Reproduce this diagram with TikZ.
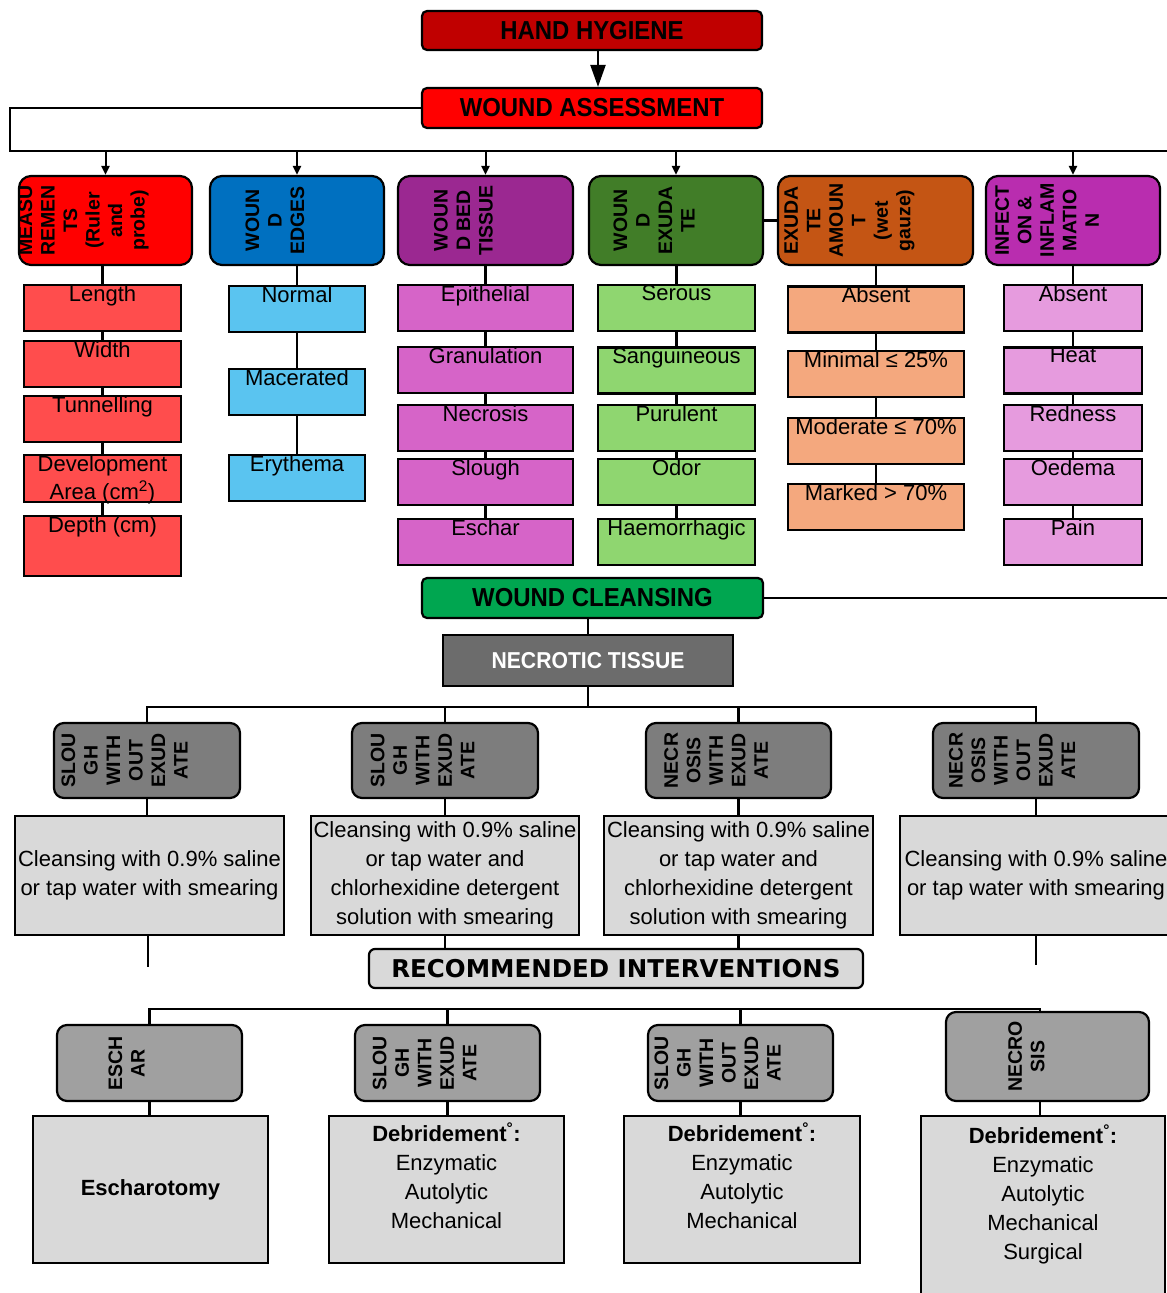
\documentclass[tikz,border=0pt]{standalone}
\usepackage{fontspec}
\setmainfont{Liberation Sans}
\newfontfamily\narrowsf[FakeStretch=0.92]{Liberation Sans}
\newfontfamily\widesf{DejaVu Sans}
\usetikzlibrary{arrows.meta,backgrounds}

\definecolor{hhred}{RGB}{192,0,0}
\definecolor{wared}{RGB}{255,0,0}
\definecolor{catred}{RGB}{255,0,0}
\definecolor{catblue}{RGB}{0,112,192}
\definecolor{catpurple}{RGB}{155,40,145}
\definecolor{catgreen}{RGB}{65,125,40}
\definecolor{catorange}{RGB}{196,85,20}
\definecolor{catmagenta}{RGB}{185,45,175}
\definecolor{itred}{RGB}{255,77,77}
\definecolor{itblue}{RGB}{90,196,240}
\definecolor{itorchid}{RGB}{214,100,200}
\definecolor{itgreen}{RGB}{143,214,112}
\definecolor{itpeach}{RGB}{244,168,126}
\definecolor{itpink}{RGB}{230,155,222}
\definecolor{wcgreen}{RGB}{0,166,80}
\definecolor{ntgray}{RGB}{108,108,108}
\definecolor{grpgray}{RGB}{125,125,125}
\definecolor{grplite}{RGB}{160,160,160}
\definecolor{notegray}{RGB}{217,217,217}

\tikzset{
  conn/.style={line width=2.4pt},
  hdr/.style={draw, line width=2.2pt, rounded corners=5pt, inner sep=0pt,
    font=\narrowsf\bfseries\fontsize{26}{30}\selectfont},
  cat/.style={draw, line width=2.2pt, rounded corners=12pt, minimum height=89pt},
  vtxt/.style={rotate=90, align=center, inner sep=0pt,
    font=\bfseries\fontsize{19.5}{22.5}\selectfont},
  item/.style={draw, line width=2.2pt, inner sep=0pt, minimum height=46pt,
    label={[itemtxt]north:#1}},
  itemtxt/.style={anchor=north, align=center, inner sep=1pt,
    font=\fontsize{22}{28}\selectfont},
  grp/.style={draw, line width=2.2pt, rounded corners=10pt, fill=grpgray,
    minimum height=75pt},
  note/.style={draw, line width=2.2pt, fill=notegray, inner sep=0pt, align=center,
    font=\fontsize{22}{29}\selectfont},
  dtxt/.style={anchor=north, align=center, inner sep=1pt,
    font=\fontsize{22}{29}\selectfont},
}

\begin{document}
\begin{tikzpicture}[x=1pt, y=-1pt]
   \useasboundingbox (0,0) rectangle (1167,1293);

   % assessment
   \node[hdr, fill=hhred, minimum width=340pt, minimum height=39pt] (hh) at (592,30.5) {HAND HYGIENE};
   \node[hdr, fill=wared, minimum width=340pt, minimum height=40pt] (wa) at (592,108) {WOUND ASSESSMENT};
   \draw[line width=2.2pt, -{Triangle[length=22pt,width=15pt]}] ([xshift=6pt]hh.south) -- ([xshift=6pt]wa.north);

   \node[cat, fill=catred, minimum width=173pt] (meas) at (105.5,220.5) {};
   \node[vtxt] (meas-t) at ([xshift=-22pt]meas.center) {MEASU\\REMEN\\TS\\(Ruler\\and\\probe)};
   \node[cat, fill=catblue, minimum width=174pt] (edges) at (297,220.5) {};
   \node[vtxt] (edges-t) at ([xshift=-22pt]edges.center) {WOUN\\D\\EDGES};
   \node[cat, fill=catpurple, minimum width=175pt] (bed) at (485.5,220.5) {};
   \node[vtxt] (bed-t) at ([xshift=-22pt]bed.center) {WOUN\\D BED\\TISSUE};
   \node[cat, fill=catgreen, minimum width=174pt] (exud) at (676,220.5) {};
   \node[vtxt] (exud-t) at ([xshift=-22pt]exud.center) {WOUN\\D\\EXUDA\\TE};
   \node[cat, fill=catorange, minimum width=195pt] (amount) at (875.5,220.5) {};
   \node[vtxt] (amount-t) at ([xshift=-26pt]amount.center) {EXUDA\\TE\\AMOUN\\T\\(wet\\gauze)};
   \node[cat, fill=catmagenta, minimum width=174pt] (infect) at (1073,220.5) {};
   \node[vtxt] (infect-t) at ([xshift=-26pt]infect.center) {INFECT\\ON \&\\INFLAM\\MATIO\\N};

   \coordinate (bl) at (10,151);
   \coordinate (br) at (1170,151);

   % items
   \node[item=Length, fill=itred, minimum width=157pt] (len) at (102.5,308) {};
   \node[item=Width, fill=itred, minimum width=157pt] (wid) at (102.5,364) {};
   \node[item=Tunnelling, fill=itred, minimum width=157pt] (tun) at (102.5,419) {};
   \node[item={Development\\Area (cm\textsuperscript{2})}, fill=itred, minimum width=157pt, minimum height=47pt] (dev) at (102.5,478.5) {};
   \node[item={Depth (cm)}, fill=itred, minimum width=157pt, minimum height=60pt] (dep) at (102.5,546) {};

   \node[item=Normal, fill=itblue, minimum width=136pt] (nor) at (297,309) {};
   \node[item=Macerated, fill=itblue, minimum width=136pt] (mac) at (297,392) {};
   \node[item=Erythema, fill=itblue, minimum width=136pt] (ery) at (297,478) {};

   \node[item=Epithelial, fill=itorchid, minimum width=175pt] (epi) at (485.5,308) {};
   \node[item=Granulation, fill=itorchid, minimum width=175pt] (gra) at (485.5,370) {};
   \node[item=Necrosis, fill=itorchid, minimum width=175pt] (nec) at (485.5,428) {};
   \node[item=Slough, fill=itorchid, minimum width=175pt] (slo) at (485.5,482) {};
   \node[item=Eschar, fill=itorchid, minimum width=175pt] (esc) at (485.5,542) {};

   \node[item=Serous, fill=itgreen, minimum width=157pt] (ser) at (676.5,308) {};
   \node[item=Sanguineous, fill=itgreen, minimum width=157pt] (san) at (676.5,370.5) {};
   \node[item=Purulent, fill=itgreen, minimum width=157pt] (pur) at (676.5,428) {};
   \node[item=Odor, fill=itgreen, minimum width=157pt] (odo) at (676.5,482) {};
   \node[item=Haemorrhagic, fill=itgreen, minimum width=157pt] (hae) at (676.5,542) {};

   \node[item=Absent, fill=itpeach, minimum width=176pt] (abs) at (876,309.5) {};
   \node[item={Minimal ≤ 25\%}, fill=itpeach, minimum width=176pt] (min) at (876,374) {};
   \node[item={Moderate ≤ 70\%}, fill=itpeach, minimum width=176pt] (mod) at (876,441) {};
   \node[item={Marked > 70\%}, fill=itpeach, minimum width=176pt] (mar) at (876,507) {};

   \node[item=Absent, fill=itpink, minimum width=138pt] (iabs) at (1073,308) {};
   \node[item=Heat, fill=itpink, minimum width=138pt] (hea) at (1073,370.5) {};
   \node[item=Redness, fill=itpink, minimum width=138pt] (rdn) at (1073,428) {};
   \node[item=Oedema, fill=itpink, minimum width=138pt] (oed) at (1073,482) {};
   \node[item=Pain, fill=itpink, minimum width=138pt] (pai) at (1073,542) {};

   % cleansing
   \node[hdr, fill=wcgreen, minimum width=341pt, minimum height=40pt] (wc) at (592.5,598) {WOUND CLEANSING};
   \node[draw, line width=2.2pt, fill=ntgray, text=white, minimum width=290pt, minimum height=51pt,
     font=\narrowsf\bfseries\fontsize{23}{27}\selectfont] (nt) at (588,660.5) {NECROTIC TISSUE};
   \coordinate (nbar) at (588,707);

   \node[grp, minimum width=186pt] (g1) at (147,760.5) {};
   \node[vtxt] (g1-t) at ([xshift=-22.5pt]g1.center) {SLOU\\GH\\WITH\\OUT\\EXUD\\ATE};
   \node[grp, minimum width=186pt] (g2) at (445,760.5) {};
   \node[vtxt] (g2-t) at ([xshift=-22.5pt]g2.center) {SLOU\\GH\\WITH\\EXUD\\ATE};
   \node[grp, minimum width=185pt] (g3) at (738.5,760.5) {};
   \node[vtxt] (g3-t) at ([xshift=-22.5pt]g3.center) {NECR\\OSIS\\WITH\\EXUD\\ATE};
   \node[grp, minimum width=206pt] (g4) at (1036,760.5) {};
   \node[vtxt] (g4-t) at ([xshift=-24pt]g4.center) {NECR\\OSIS\\WITH\\OUT\\EXUD\\ATE};

   \node[note, minimum width=269pt, minimum height=119pt] (c1) at (149.5,875.5) {Cleansing with 0.9\% saline\\or tap water with smearing};
   \node[note, minimum width=268pt, minimum height=119pt] (c2) at (445,875.5) {Cleansing with 0.9\% saline\\or tap water and\\chlorhexidine detergent\\solution with smearing};
   \node[note, minimum width=269pt, minimum height=119pt] (c3) at (738.5,875.5) {Cleansing with 0.9\% saline\\or tap water and\\chlorhexidine detergent\\solution with smearing};
   \node[note, minimum width=272pt, minimum height=119pt] (c4) at (1036,875.5) {Cleansing with 0.9\% saline\\or tap water with smearing};
   \coordinate (c1-end) at (148,967);
   \coordinate (c4-end) at (1036,965);

   \node[draw, line width=2.2pt, rounded corners=6pt, fill=notegray, minimum width=494pt, minimum height=39pt,
     font=\widesf\bfseries\fontsize{24.5}{28}\selectfont] (ri) at (616,968.5) {RECOMMENDED INTERVENTIONS};

   % interventions
   \coordinate (bbar) at (1040,1009);
   \node[grp, fill=grplite, minimum width=185pt, minimum height=76pt] (b1) at (149.5,1063) {};
   \node[vtxt] (b1-t) at ([xshift=-23pt]b1.center) {ESCH\\AR};
   \node[grp, fill=grplite, minimum width=185pt, minimum height=76pt] (b2) at (447.5,1063) {};
   \node[vtxt] (b2-t) at ([xshift=-23pt]b2.center) {SLOU\\GH\\WITH\\EXUD\\ATE};
   \node[grp, fill=grplite, minimum width=185pt, minimum height=76pt] (b3) at (740.5,1063) {};
   \node[vtxt] (b3-t) at ([xshift=-23pt]b3.center) {SLOU\\GH\\WITH\\OUT\\EXUD\\ATE};
   \node[grp, fill=grplite, minimum width=203pt, minimum height=89pt] (b4) at (1047.5,1056.5) {};
   \node[vtxt] (b4-t) at ([xshift=-21pt]b4.center) {NECRO\\SIS};

   \node[note, minimum width=235pt, minimum height=147pt, font=\bfseries\fontsize{22}{29}\selectfont] (d1) at (150.5,1189.5) {Escharotomy};
   \node[note, minimum width=235pt, minimum height=147pt,
     label={[dtxt, yshift=-7pt]north:{\textbf{Debridement\textsuperscript{°}:}\\Enzymatic\\Autolytic\\Mechanical}}] (d2) at (446.5,1189.5) {};
   \node[note, minimum width=236pt, minimum height=147pt,
     label={[dtxt, yshift=-7pt]north:{\textbf{Debridement\textsuperscript{°}:}\\Enzymatic\\Autolytic\\Mechanical}}] (d3) at (742,1189.5) {};
   \node[note, minimum width=244pt, minimum height=184pt,
     label={[dtxt, yshift=-9pt]north:{\textbf{Debridement\textsuperscript{°}:}\\Enzymatic\\Autolytic\\Mechanical\\Surgical}}] (d4) at (1043,1208) {};

   % connectors
   \draw[conn] (wa.west) -| (bl) -- (br) |- (wc.east);
   \foreach \n in {meas,edges,bed,exud,infect}
     \draw[line width=2pt, -{Triangle[length=9pt,width=8pt]}] (\n.north |- bl) -- (\n.north);

   \begin{scope}[on background layer]
     \draw[conn] (meas.south -| dep) -- (dep);
     \draw[conn] (edges) -- (ery);
     \draw[conn] (bed) -- (esc);
     \draw[conn] (exud.south -| hae) -- (hae);
     \draw[conn] (exud) -- (amount);
     \draw[conn] (amount.south -| mar) -- (mar);
     \draw[conn] (infect) -- (pai);
   \end{scope}

   \draw[conn] (nt.north) -- (nt.north |- wc.south);
   \draw[conn] (nt.south) -- (nbar);
   \draw[conn] (g1.north) |- (nbar) -| (g4.north);
   \draw[conn] (g2.north) -- (g2.north |- nbar) (g3.north) -- (g3.north |- nbar);
   \draw[conn] (g1.south) -- (g1.south |- c1.north) (g2.south) -- (g2.south |- c2.north);
   \draw[conn] (g3.south) -- (g3.south |- c3.north) (g4.south) -- (g4.south |- c4.north);
   \draw[conn] (c1.south -| c1-end) -- (c1-end);
   \draw[conn] (c4.south -| c4-end) -- (c4-end);
   \draw[conn] (c2.south) -- (c2.south |- ri.north) (c3.south) -- (c3.south |- ri.north);

   \draw[conn] (b1.north) |- (bbar) -- (bbar |- b4.north);
   \draw[conn] (b2.north) -- (b2.north |- bbar) (b3.north) -- (b3.north |- bbar);
   \draw[conn] (b1.south) -- (b1.south |- d1.north) (b2.south) -- (b2.south |- d2.north);
   \draw[conn] (b3.south) -- (b3.south |- d3.north) (bbar |- b4.south) -- (bbar |- d4.north);
\end{tikzpicture}
\end{document}
